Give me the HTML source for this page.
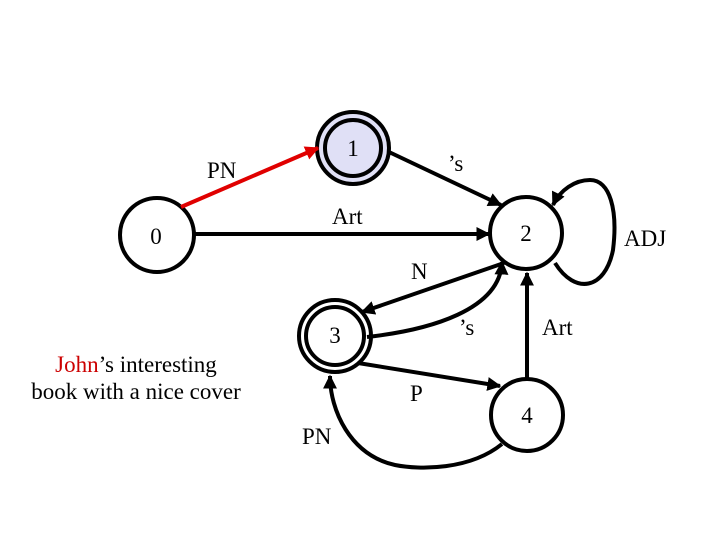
<!DOCTYPE html>
<html><head><meta charset="utf-8"><style>
body{margin:0;background:#fff;width:720px;height:540px;overflow:hidden}
text{font-family:"Liberation Serif",serif;font-size:23px;fill:#000}
</style></head><body>
<svg width="720" height="540" viewBox="0 0 720 540" xmlns="http://www.w3.org/2000/svg">
<defs>
<marker id="a" viewBox="0 0 10 10" refX="9" refY="5" markerWidth="3.5" markerHeight="3.5" orient="auto"><path d="M0,0L10,5L0,10z" fill="#000"/></marker>
<marker id="r" viewBox="0 0 10 10" refX="9" refY="5" markerWidth="3.5" markerHeight="3.5" orient="auto"><path d="M0,0L10,5L0,10z" fill="#e00000"/></marker>
</defs>
<g stroke="#000" stroke-width="4" fill="none">
<circle cx="157" cy="235" r="37" fill="#fff"/>
<circle cx="353" cy="148" r="36" fill="#e0e0f6"/>
<circle cx="353" cy="148" r="28"/>
<circle cx="526" cy="233" r="36" fill="#fff"/>
<circle cx="335" cy="336" r="36" fill="#fff"/>
<circle cx="335" cy="336" r="29"/>
<circle cx="527" cy="415" r="36" fill="#fff"/>
<line x1="194" y1="234" x2="489" y2="234" marker-end="url(#a)"/>
<line x1="181" y1="207" x2="318" y2="148" stroke="#e00000" marker-end="url(#r)"/>
<line x1="389" y1="152" x2="501" y2="205" marker-end="url(#a)"/>
<path d="M555,263 C575,295 605,290 613,250 C618,210 610,180 590,180 C575,180 560,190 553,205" marker-end="url(#a)"/>
<line x1="504" y1="263" x2="362" y2="312" marker-end="url(#a)"/>
<path d="M367,337 C430,330 500,310 502,262" marker-end="url(#a)"/>
<line x1="358" y1="363" x2="500" y2="386" marker-end="url(#a)"/>
<line x1="527" y1="379" x2="527" y2="273" marker-end="url(#a)"/>
<path d="M502,444 C470,470 420,470 395,465 C350,455 330,410 330,376" marker-end="url(#a)"/>
</g>
<text x="353" y="156" text-anchor="middle">1</text>
<text x="156" y="244" text-anchor="middle">0</text>
<text x="526" y="241" text-anchor="middle">2</text>
<text x="335" y="343" text-anchor="middle">3</text>
<text x="527" y="423" text-anchor="middle">4</text>
<text x="207" y="178">PN</text>
<text x="448" y="171">’s</text>
<text x="332" y="224">Art</text>
<text x="624" y="246">ADJ</text>
<text x="411" y="279">N</text>
<text x="459" y="335">’s</text>
<text x="542" y="335">Art</text>
<text x="410" y="401">P</text>
<text x="302" y="444">PN</text>
<text x="136" y="372" text-anchor="middle"><tspan fill="#cc0000">John</tspan>’s interesting</text>
<text x="136" y="399" text-anchor="middle">book with a nice cover</text>
</svg>
</body></html>
